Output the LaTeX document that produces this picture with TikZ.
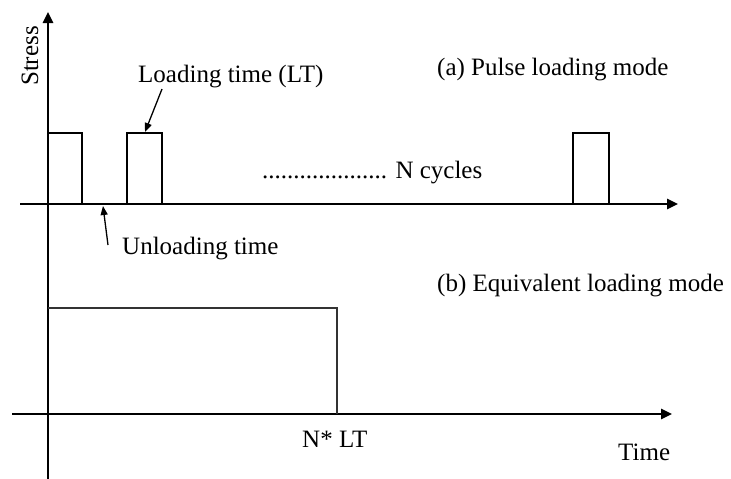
\documentclass[tikz,border=0pt]{standalone}
\usepackage{fontspec}
\setmainfont{Liberation Serif}
\usetikzlibrary{arrows.meta}
\tikzset{
  >={Triangle[length=11pt,width=10pt]},
  axis/.style={draw=black, line width=2.5pt, ->},
  pulse/.style={draw=black, line width=1.6pt},
  equiv/.style={draw=black!80, line width=1.4pt},
  pointer/.style={draw=black, line width=1.3pt, -{Triangle[length=9pt,width=7pt]}},
  lbl/.style={font=\fontsize{25}{30}\selectfont, inner sep=0pt, anchor=base west}
}
\begin{document}
\begin{tikzpicture}[x=1pt,y=-1pt]
  \path[use as bounding box] (0,0) rectangle (731,479);

  % axes
  \coordinate (stressbot) at (48,479);
  \coordinate (stresstop) at (48,12);
  \coordinate (pulsestart) at (20,204);
  \coordinate (pulseend) at (678,204);
  \coordinate (equivstart) at (12,414);
  \coordinate (equivend) at (672,414);
  \draw[axis] (stressbot) -- (stresstop);
  \draw[axis] (pulsestart) -- (pulseend);
  \draw[axis] (equivstart) -- (equivend);

  % (a) pulses
  \draw[pulse] (48,133) -- (82,133) -- (82,204);
  \draw[pulse] (127,204) |- (162,133) -- (162,204);
  \draw[pulse] (573,204) |- (609,133) -- (609,204);

  % (b) equivalent block
  \draw[equiv] (48,308) -- (337,308) -- (337,414);

  % labels
  \node[font=\fontsize{25}{30}\selectfont, inner sep=0pt, rotate=90] (stress) at (30,56) {Stress};
  \node[lbl] (loading) at (138,82) {Loading time (LT)};
  \node[lbl] (pulsemode) at (437,75) {(a) Pulse loading mode};
  \node[lbl] (cycles) at (262,178) {.................... N cycles};
  \node[lbl] (unloading) at (122,254) {Unloading time};
  \node[lbl] (equivmode) at (437,291) {(b) Equivalent loading mode};
  \node[lbl] (nlt) at (302,447) {N* LT};
  \node[lbl] (time) at (618,460) {Time};

  % pointers
  \coordinate (lttail) at (162,89);
  \coordinate (lthead) at (145,132);
  \coordinate (uttail) at (108,245);
  \coordinate (uthead) at (103,206);
  \draw[pointer] (lttail) -- (lthead);
  \draw[pointer] (uttail) -- (uthead);
\end{tikzpicture}
\end{document}
